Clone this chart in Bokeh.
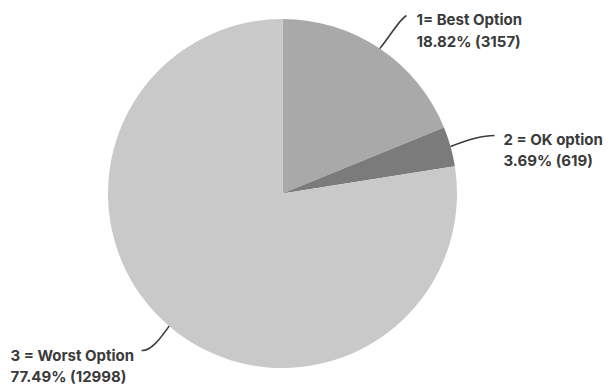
import numpy as np
from bokeh.plotting import figure
from bokeh.models import Range1d
from bokeh.core.properties import value
from bokeh.embed import file_html
from bokeh.resources import INLINE

categories = ["1= Best Option", "2 = OK option", "3 = Worst Option"]
percents = [18.82, 3.69, 77.49]
counts = [3157, 619, 12998]
colors = ["#a9a9a9", "#7b7b7b", "#c9c9c9"]

W, H = 610, 388
p = figure(width=W, height=H, output_backend="svg", toolbar_location=None,
           x_range=Range1d(0, W), y_range=Range1d(0, H), min_border=0)
p.axis.visible = False
p.grid.visible = False
p.outline_line_color = None
p.background_fill_color = "white"
p.border_fill_color = "white"

cx, cy, r = 282, H - 193, 174.5
frac = np.array(percents) / sum(percents)
ends = np.pi / 2 - 2 * np.pi * np.cumsum(frac)
starts = np.concatenate([[np.pi / 2], ends[:-1]])
p.wedge(x=[cx] * 3, y=[cy] * 3, radius=r, start_angle=list(ends), end_angle=list(starts),
        fill_color=colors, line_color=None)

mids = (starts + ends) / 2
sx = cx + r * np.cos(mids)
sy = cy + r * np.sin(mids)

label_x = [416, 503, 10]
label_y1 = [19, 139, 355]
label_y2 = [41, 160, 376]
lead_end = [(406, 15), (494, 135), (141, 350)]
ctrl0 = [(392, 32), (470, 138), (160, 338)]
ctrl1 = [(399, 19), (485, 135), (150, 351)]

for i in range(3):
    ex, ey = lead_end[i]
    p.bezier(x0=sx[i], y0=sy[i], x1=ex, y1=H - ey,
             cx0=ctrl0[i][0], cy0=H - ctrl0[i][1], cx1=ctrl1[i][0], cy1=H - ctrl1[i][1],
             line_color="#3c3c3c", line_width=1.6)

line1 = categories
line2 = [f"{pc:.2f}% ({c})" for pc, c in zip(percents, counts)]
for ys, txt in ((label_y1, line1), (label_y2, line2)):
    p.text(x=label_x, y=[H - v for v in ys], text=txt,
           text_font=value("Inter"), text_font_style="bold", text_font_size="15px",
           text_color="#3a3a3a", text_baseline="middle", text_align="left")

open("out.html", "w").write(file_html(p, INLINE))
